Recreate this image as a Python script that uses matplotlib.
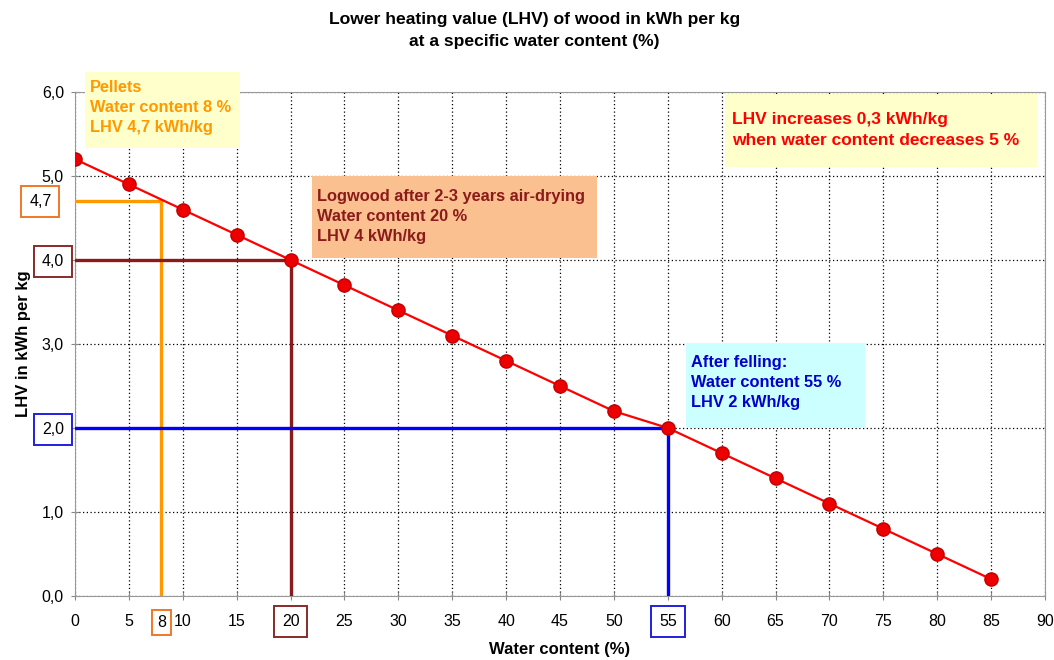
import matplotlib.pyplot as plt
from matplotlib.patches import Rectangle

plt.rcParams['font.family'] = ['Liberation Sans', 'DejaVu Sans']

water = [0, 5, 10, 15, 20, 25, 30, 35, 40, 45, 50, 55, 60, 65, 70, 75, 80, 85]
lhv = [5.2, 4.9, 4.6, 4.3, 4.0, 3.7, 3.4, 3.1, 2.8, 2.5, 2.2, 2.0, 1.7, 1.4, 1.1, 0.8, 0.5, 0.2]

# highlighted examples: water content, LHV, line colour, text colour, box colour, text
ex_water = [8, 20, 55]
ex_lhv = [4.7, 4.0, 2.0]
ex_line = ['#FF9900', '#8B1A1A', '#0000FF']
ex_edge = ['#F07828', '#8B2A2A', '#2020E0']
ex_text = ['#FF9900', '#8B1A1A', '#0000CC']
ex_fill = ['#FFFFCC', '#FAC090', '#CCFFFF']
ex_label = ['Pellets\nWater content 8 %\nLHV 4,7 kWh/kg',
            'Logwood after 2-3 years air-drying\nWater content 20 %\nLHV 4 kWh/kg',
            'After felling:\nWater content 55 %\nLHV 2 kWh/kg']
# box position in data units: x0, x1, y0, y1
ex_box = [(0.93, 15.3, 5.33, 6.24), (22.0, 48.4, 4.02, 5.0), (56.7, 73.3, 2.0, 3.01)]
ex_top = [6.14, 4.85, 2.87]

note = 'LHV increases 0,3 kWh/kg\nwhen water content decreases 5 %'

fig = plt.figure(figsize=(10.54, 6.60), dpi=100)
ax = fig.add_axes([0.0712, 0.097, 0.9203, 0.7636])

ax.set_xlim(0, 90)
ax.set_ylim(0, 6)
ax.set_xticks(range(0, 91, 5))
ax.set_yticks([0, 1, 2, 3, 4, 5, 6])
ax.set_yticklabels([f'{v:.1f}'.replace('.', ',') for v in range(0, 7)])
ax.grid(True, color='black', linestyle=(0, (1, 2)), linewidth=0.9)
ax.set_axisbelow(True)
for s in ax.spines.values():
    s.set_color('#999999')
ax.tick_params(direction='inout', length=6, color='#888888', labelsize=11.5)
ax.tick_params(axis='x', pad=10)
ax.tick_params(axis='y', pad=5)

ax.plot(water, lhv, color='#FF0000', linewidth=1.6, marker='o', markersize=9.5,
        markerfacecolor='#EE0000', markeredgecolor='#C00000', zorder=5)

for i in range(3):
    ax.plot([0, ex_water[i]], [ex_lhv[i], ex_lhv[i]], color=ex_line[i], linewidth=2.4, zorder=4)
    ax.plot([ex_water[i], ex_water[i]], [0, ex_lhv[i]], color=ex_line[i], linewidth=2.4, zorder=4)
    x0, x1, y0, y1 = ex_box[i]
    ax.add_patch(Rectangle((x0, y0), x1 - x0, y1 - y0, facecolor=ex_fill[i],
                           edgecolor='none', clip_on=False, zorder=3))
    ax.text(x0 + 0.45, ex_top[i], ex_label[i], color=ex_text[i], fontsize=11.8,
            fontweight='bold', va='top', ha='left', linespacing=1.42, zorder=6)

ax.add_patch(Rectangle((60.3, 5.11), 29.0, 0.87, facecolor='#FFFFCC',
                       edgecolor='none', clip_on=False, zorder=3))
ax.text(61.0, 5.55, note, color='#FF0000', fontsize=12.5, fontweight='bold',
        va='center', ha='left', linespacing=1.55, zorder=6)

# boxed tick labels
fig.canvas.draw()
for lab in ax.get_yticklabels():
    txt = lab.get_text()
    for i in range(3):
        if txt == f'{ex_lhv[i]:.1f}'.replace('.', ','):
            lab.set_bbox(dict(boxstyle='square,pad=0.5', facecolor='white',
                              edgecolor=ex_edge[i], linewidth=1.4))
for lab in ax.get_xticklabels():
    txt = lab.get_text()
    for i in range(3):
        if txt == str(ex_water[i]):
            lab.set_bbox(dict(boxstyle='square,pad=0.5', facecolor='white',
                              edgecolor=ex_edge[i], linewidth=1.4))

# extra labels for values that are not on the regular ticks
ax.annotate('4,7', xy=(0, ex_lhv[0]), xytext=(-17, 0), textcoords='offset points',
            ha='right', va='center', fontsize=11.5, annotation_clip=False,
            bbox=dict(boxstyle='square,pad=0.5', facecolor='white',
                      edgecolor=ex_edge[0], linewidth=1.4))
ax.annotate('8', xy=(ex_water[0], 0), xytext=(0, -19), textcoords='offset points',
            ha='center', va='center', fontsize=11.5, annotation_clip=False,
            bbox=dict(boxstyle='square,pad=0.3', facecolor='white',
                      edgecolor=ex_edge[0], linewidth=1.4))

ax.set_xlabel('Water content (%)', fontsize=12, fontweight='bold', labelpad=9)
ax.set_ylabel('LHV in kWh per kg', fontsize=12, fontweight='bold', labelpad=8)
fig.text(0.507, 0.982, 'Lower heating value (LHV) of wood in kWh per kg\nat a specific water content (%)',
         ha='center', va='top', fontsize=12.6, fontweight='bold', linespacing=1.6)

fig.savefig('out.png', dpi=100)
